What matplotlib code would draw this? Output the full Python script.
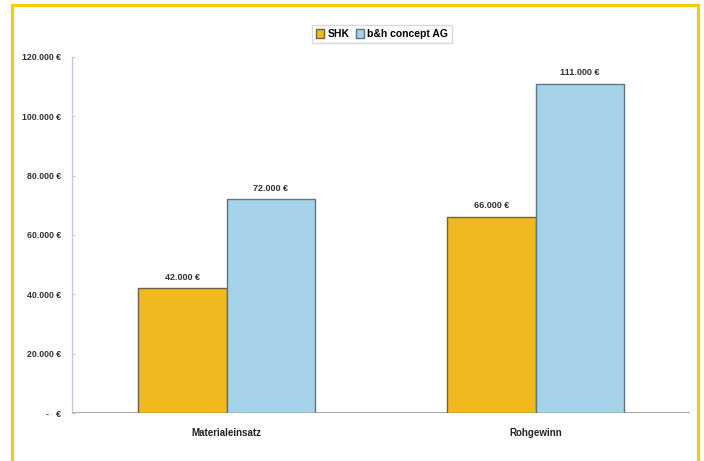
import numpy as np
import matplotlib.pyplot as plt
from matplotlib.patches import Rectangle
from matplotlib.ticker import FuncFormatter

# Values in EUR
categories = ["Materialeinsatz", "Rohgewinn"]
series_names = ["SHK", "b&h concept AG"]
shk = [42000, 66000]
bh = [72000, 111000]
yticks = [0, 20000, 40000, 60000, 80000, 100000, 120000]


def euro(v, pos=None):
    if v == 0:
        return "-   \u20ac"
    return f"{int(v):,}".replace(",", ".") + " \u20ac"


plt.rcParams['font.family'] = ['Liberation Sans', 'DejaVu Sans']

fig = plt.figure(figsize=(7.04, 4.61), dpi=100)
fig.patch.set_facecolor("white")

# yellow frame around the chart (open at the bottom edge)
fig.patches.append(Rectangle((12 / 704, -0.1), (698 - 12) / 704, 1.1 - 5 / 461,
                             transform=fig.transFigure, fill=False,
                             edgecolor="#F5CC00", linewidth=2.2, zorder=0))

ax = fig.add_axes([72 / 704, 1 - 413 / 461, (690 - 72) / 704, (413 - 57) / 461])

x = np.arange(len(categories)) + 0.5
w = 0.287
b1 = ax.bar(x - w / 2, shk, w, color="#F1B91F", edgecolor="#6b6440",
            linewidth=1.0, label=series_names[0], zorder=3)
b2 = ax.bar(x + w / 2, bh, w, color="#A7D3EA", edgecolor="#5f7480",
            linewidth=1.0, label=series_names[1], zorder=3)

for bars in (b1, b2):
    for r in bars:
        ax.text(r.get_x() + r.get_width() / 2, r.get_height() + 2300,
                euro(r.get_height()), ha="center", va="bottom",
                fontsize=6.5, fontweight="bold", color="#333333")

ax.set_xlim(0, 2)
ax.set_ylim(0, 120000)
ax.set_yticks(yticks)
ax.yaxis.set_major_formatter(FuncFormatter(euro))
ax.set_xticks(x)
ax.set_xticklabels(categories)
ax.tick_params(axis="y", labelsize=6.3, colors="#c8c8d8", labelcolor="#333333",
               length=2, direction="in", pad=8)
ax.tick_params(axis="x", labelsize=7, length=0, pad=11, labelcolor="#222222")
for lab in ax.get_yticklabels() + ax.get_xticklabels():
    lab.set_fontweight("bold")

for s in ("top", "right", "bottom"):
    ax.spines[s].set_visible(False)
ax.spines["left"].set_color("#c8c8dc")
ax.spines["left"].set_linewidth(1.0)
ax.axhline(0, color="#9a9a9a", linewidth=1.2, zorder=2)

leg = fig.legend(loc="center", bbox_to_anchor=(382 / 704, 1 - 34 / 461), ncol=2,
                 fontsize=7.5, frameon=True, handlelength=0.8, handleheight=0.9,
                 handletextpad=0.3, columnspacing=0.6, borderpad=0.35,
                 fancybox=False, edgecolor="#d0d0d0")
for t in leg.get_texts():
    t.set_fontweight("bold")

fig.savefig("out.png", dpi=100)
